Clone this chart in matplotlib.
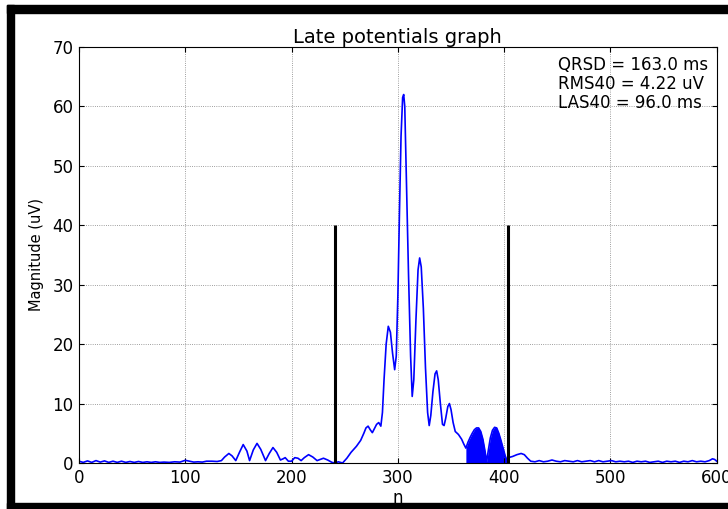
import matplotlib
matplotlib.use("Agg")
import matplotlib.pyplot as plt
import numpy as np
from matplotlib.patches import Rectangle

# sample index and magnitude (uV)
n = [0, 4, 8, 12, 16, 20, 24, 28, 32, 36, 40, 44, 48, 52, 56, 60, 64, 68, 72, 76,
     80, 85, 90, 95, 100, 104, 108, 112, 116, 120, 125, 130, 134,
     137, 141, 144, 147.5, 151, 154.5, 158, 160.5, 164, 167.5, 171, 175.5, 179, 182.5,
     186, 189.5, 192, 194, 197, 200, 203, 206, 209, 212, 216, 220, 224, 227, 230, 234,
     238, 241, 244, 248, 252, 256, 261, 265, 268, 270, 272, 274, 276, 278, 280, 282,
     284, 285.5, 287, 289, 291, 293, 295, 297, 298.5, 300, 301.5, 303, 304.5, 305.5,
     306.5, 308, 310, 312, 313.5, 315, 317, 319, 320.5, 322, 324, 326, 328, 329.5,
     331, 333, 335, 336.5, 338, 340, 342, 343.5, 345, 347, 348.5, 350, 352, 354, 357,
     360, 362, 364, 366, 368, 370, 372, 374, 376, 378, 380, 382, 383.5, 385, 387, 389,
     391, 393, 395, 397, 399, 401, 403, 404, 408, 412, 416, 419, 422, 425, 429, 433,
     437, 441, 445, 449, 453, 457, 461, 465, 469, 473, 477, 481, 485, 489, 493, 497,
     501, 505, 509, 513, 517, 521, 525, 529, 533, 537, 541, 545, 549, 553, 557, 561,
     565, 569, 573, 577, 581, 585, 589, 593, 596, 598, 600]
magnitude = [0.3, 0.1, 0.35, 0.1, 0.4, 0.15, 0.35, 0.1, 0.3, 0.1, 0.3, 0.1, 0.25, 0.1,
             0.25, 0.1, 0.2, 0.1, 0.2, 0.1, 0.15, 0.1, 0.2, 0.15, 0.45, 0.3, 0.15, 0.2,
             0.15, 0.3, 0.3, 0.25, 0.4,
             1.0, 1.6, 1.2, 0.4, 1.8, 3.1, 2.0, 0.4, 2.2, 3.3, 2.3, 0.4, 1.6, 2.6,
             1.8, 0.5, 0.7, 0.9, 0.3, 0.3, 0.9, 0.8, 0.4, 0.9, 1.4, 1.0, 0.4, 0.6, 0.8, 0.5,
             0.1, 0.0, 0.2, 0.0, 0.8, 1.8, 2.8, 3.8, 5.0, 5.9, 6.2, 5.6, 5.1, 5.8, 6.5, 6.8,
             6.2, 8.5, 14.0, 20.0, 23.0, 22.0, 18.5, 15.7, 18.0, 28.0, 42.0, 55.0, 61.5, 62.0,
             60.0, 48.0, 32.0, 18.0, 11.2, 14.0, 24.0, 32.5, 34.5, 33.0, 26.0, 16.0, 8.5, 6.3,
             8.0, 12.0, 15.0, 15.5, 14.0, 10.0, 6.5, 6.3, 7.5, 9.5, 10.0, 9.0, 6.8, 5.3, 4.8,
             4.0, 3.2, 2.5, 3.5, 4.3, 5.0, 5.6, 5.9, 5.9, 5.3, 4.0, 2.0, 0.2, 2.0, 4.2, 5.5,
             6.0, 5.9, 5.0, 3.8, 2.5, 1.2, 0.3, 0.9, 1.1, 1.4, 1.6, 1.4, 0.8, 0.3, 0.2, 0.4,
             0.2, 0.3, 0.5, 0.3, 0.2, 0.4, 0.3, 0.2, 0.4, 0.2, 0.3, 0.4, 0.2, 0.4, 0.2, 0.3,
             0.4, 0.2, 0.3, 0.2, 0.3, 0.1, 0.3, 0.2, 0.3, 0.1, 0.2, 0.3, 0.1, 0.3, 0.2, 0.3,
             0.1, 0.3, 0.2, 0.4, 0.2, 0.3, 0.2, 0.4, 0.7, 0.6, 0.3]

qrs_bounds = [241, 404]   # QRS onset / offset markers
marker_height = 40
las_region = [364, 404]   # shaded late potential region
stats = ["QRSD = 163.0 ms", "RMS40 = 4.22 uV", "LAS40 = 96.0 ms"]

n = np.array(n)
magnitude = np.array(magnitude)

fig = plt.figure(figsize=(7.28, 5.09), dpi=100)
ax = fig.add_axes([0.1085, 0.0904, 0.876, 0.8173])

ax.plot(n, magnitude, color="b", lw=1.2)
mask = (n >= las_region[0]) & (n <= las_region[1])
ax.fill_between(n[mask], 0, magnitude[mask], color="b", lw=0)
ax.vlines(qrs_bounds, 0, marker_height, colors="k", lw=2.2)

ax.set_xlim(0, 600)
ax.set_ylim(0, 70)
ax.set_xticks(range(0, 601, 100))
ax.set_yticks(range(0, 71, 10))
ax.grid(True, color="k", linestyle=":", linewidth=0.6, alpha=0.5)
ax.tick_params(direction="in", top=True, right=True, labelsize=12, pad=4)

ax.set_title("Late potentials graph", fontsize=14, pad=3)
ax.set_xlabel("n", fontsize=12, labelpad=2)
ax.set_ylabel("Magnitude (uV)", fontsize=10.5, labelpad=6)

ax.text(0.987, 0.978, "\n".join(stats), transform=ax.transAxes,
        ha="right", va="top", multialignment="left", fontsize=12, linespacing=1.05)

# black frame of the original screenshot
fig.patches.append(Rectangle((7 / 728, 0), 7 / 728, 1 - 5 / 509, transform=fig.transFigure,
                             color="k", zorder=10))
fig.patches.append(Rectangle((7 / 728, 1 - 13 / 509), 1, 8 / 509, transform=fig.transFigure,
                             color="k", zorder=10))
fig.patches.append(Rectangle((7 / 728, 0), 1, 6 / 509, transform=fig.transFigure,
                             color="k", zorder=10))

fig.savefig("out.png", dpi=100)
